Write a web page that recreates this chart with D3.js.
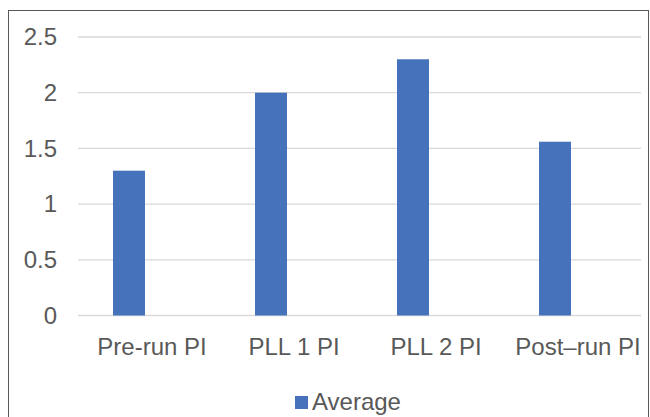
<!DOCTYPE html>
<html>
<head>
<meta charset="utf-8">
<script src="https://cdn.jsdelivr.net/npm/d3@7"></script>
<style>
  html, body { margin: 0; padding: 0; background: #fff; }
  svg { display: block; }
  text { font-family: "Liberation Sans", Arial, sans-serif; fill: #595959; }
</style>
</head>
<body>
<svg id="chart" width="650" height="417"></svg>
<script>
// Plate indices per phase
const categories = ["Pre-run PI", "PLL 1 PI", "PLL 2 PI", "Post\u2013run PI"];
const seriesNames = ["Average", ""];
const averageValues = [1.3, 2.0, 2.3, 1.56];
const yTicks = [0, 0.5, 1, 1.5, 2, 2.5];

const FONT = 24;
const plot = { left: 78, right: 646, top: 37, bottom: 315.5 };
const svg = d3.select("#chart");

// Outer chart frame
svg.append("rect")
  .attr("x", 8.5).attr("y", 10.5)
  .attr("width", 640).attr("height", 420)
  .attr("fill", "none").attr("stroke", "#595959").attr("stroke-width", 1);

const y = d3.scaleLinear().domain([0, 2.5]).range([plot.bottom, plot.top]);
const x0 = d3.scaleBand().domain(categories).range([plot.left, plot.right]);
const x1 = d3.scaleBand().domain(seriesNames).range([0, x0.bandwidth()])
  .paddingInner(0.2).paddingOuter(0.875);

// Gridlines
svg.append("g")
  .selectAll("line").data(yTicks).join("line")
  .attr("x1", plot.left).attr("x2", plot.right - 5)
  .attr("y1", d => y(d)).attr("y2", d => y(d))
  .attr("stroke", "#d9d9d9").attr("stroke-width", 1.3);

// Y axis labels
const yAxis = d3.axisLeft(y).tickValues(yTicks).tickSize(0).tickPadding(0).tickFormat(d3.format("~g"));
svg.append("g")
  .attr("transform", `translate(${plot.left - 21},0)`)
  .call(yAxis)
  .call(g => g.select(".domain").remove())
  .call(g => g.selectAll("text").attr("font-size", FONT).attr("fill", "#595959")
    .attr("font-family", "'Liberation Sans', Arial, sans-serif"));

// Bars
svg.append("g")
  .selectAll("rect").data(categories).join("rect")
  .attr("x", d => x0(d) + x1("Average"))
  .attr("width", x1.bandwidth())
  .attr("y", (d, i) => y(averageValues[i]))
  .attr("height", (d, i) => y(0) - y(averageValues[i]))
  .attr("fill", "#4672bb");

// X axis labels
const xAxis = d3.axisBottom(x0).tickSize(0).tickPadding(0);
svg.append("g")
  .attr("transform", `translate(3,${y(0) + 22})`)
  .call(xAxis)
  .call(g => g.select(".domain").remove())
  .call(g => g.selectAll("text").attr("font-size", FONT).attr("fill", "#595959")
    .attr("dy", "0.71em")
    .attr("font-family", "'Liberation Sans', Arial, sans-serif"));

// Legend
const legend = svg.append("g").attr("transform", "translate(295,396)");
legend.append("rect").attr("width", 13).attr("height", 13).attr("fill", "#4672bb");
legend.append("text").attr("x", 17).attr("y", 14)
  .attr("font-size", FONT).text(seriesNames[0]);
</script>
</body>
</html>
